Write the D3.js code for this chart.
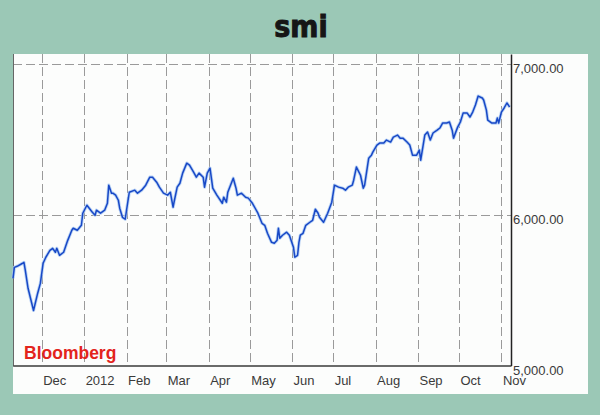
<!DOCTYPE html>
<html>
<head>
<meta charset="utf-8">
<script src="https://cdn.jsdelivr.net/npm/d3@7"></script>
<style>
  html, body { margin: 0; padding: 0; background: #9bc8b6; }
  svg { display: block; }
</style>
</head>
<body>
<svg id="chart" width="600" height="415"></svg>
<script>
// ---- data ----
const title = "smi";
const source = "Bloomberg";
const dates = [
"2011-11-10","2011-11-11","2011-11-13","2011-11-17","2011-11-18","2011-11-19","2011-11-21","2011-11-25","2011-11-28","2011-11-30",
"2011-12-02","2011-12-04","2011-12-07","2011-12-09","2011-12-11","2011-12-12","2011-12-14","2011-12-17","2011-12-18","2011-12-20","2011-12-23","2011-12-24","2011-12-27","2011-12-30","2011-12-31",
"2012-01-03","2012-01-07","2012-01-09","2012-01-10","2012-01-13","2012-01-16","2012-01-18","2012-01-19","2012-01-21","2012-01-22","2012-01-24","2012-01-26","2012-01-27","2012-01-29","2012-01-31",
"2012-02-01","2012-02-03","2012-02-07","2012-02-09","2012-02-12","2012-02-15","2012-02-18","2012-02-20","2012-02-23","2012-02-25","2012-02-28",
"2012-03-02","2012-03-04","2012-03-06","2012-03-07","2012-03-09","2012-03-11","2012-03-13","2012-03-16","2012-03-18","2012-03-21","2012-03-23","2012-03-25","2012-03-28","2012-03-29","2012-03-31",
"2012-04-02","2012-04-04","2012-04-07","2012-04-11","2012-04-12","2012-04-14","2012-04-15","2012-04-17","2012-04-19","2012-04-21","2012-04-22","2012-04-25","2012-04-28","2012-04-30",
"2012-05-03","2012-05-05","2012-05-07","2012-05-10","2012-05-12","2012-05-14","2012-05-17","2012-05-19","2012-05-21","2012-05-22","2012-05-23","2012-05-25","2012-05-28","2012-05-30",
"2012-06-02","2012-06-03","2012-06-05","2012-06-06","2012-06-07","2012-06-09","2012-06-11","2012-06-14","2012-06-16","2012-06-18","2012-06-20","2012-06-21","2012-06-24","2012-06-27","2012-06-30",
"2012-07-02","2012-07-05","2012-07-08","2012-07-10","2012-07-12","2012-07-15","2012-07-16","2012-07-18","2012-07-21","2012-07-23","2012-07-24","2012-07-26","2012-07-27","2012-07-29","2012-07-30",
"2012-08-02","2012-08-04","2012-08-07","2012-08-09","2012-08-12","2012-08-14","2012-08-17","2012-08-19","2012-08-21","2012-08-24","2012-08-26","2012-08-28","2012-08-31",
"2012-09-02","2012-09-03","2012-09-06","2012-09-08","2012-09-10","2012-09-12","2012-09-15","2012-09-17","2012-09-19","2012-09-22","2012-09-24","2012-09-26","2012-09-27","2012-09-30",
"2012-10-02","2012-10-04","2012-10-07","2012-10-09","2012-10-11","2012-10-13","2012-10-15","2012-10-18","2012-10-19","2012-10-21","2012-10-22","2012-10-25","2012-10-28","2012-10-29","2012-10-30",
"2012-11-01","2012-11-03","2012-11-05","2012-11-06","2012-11-07"
];
const values = [
5578,5651,5658,5678,5684,5631,5512,5365,5478,5545,
5678,5718,5764,5777,5751,5777,5731,5751,5777,5830,5897,5910,5897,5930,6010,
6063,6017,5997,6030,6010,6030,6076,6196,6143,6143,6130,6096,6043,5983,5970,
6030,6149,6163,6143,6163,6196,6249,6249,6216,6183,6143,
6130,6149,6050,6096,6183,6209,6276,6342,6329,6282,6249,6276,6249,6183,6276,
6309,6176,6130,6076,6116,6083,6149,6196,6242,6176,6130,6143,6116,6110,
6076,6043,6010,5943,5930,5877,5817,5811,5830,5910,5844,5864,5884,5864,
5784,5718,5731,5817,5864,5877,5930,5950,5963,6036,6010,5983,5950,6010,6083,
6196,6183,6176,6163,6183,6196,6229,6316,6262,6176,6196,6316,6375,6395,6415,
6462,6475,6475,6495,6482,6515,6528,6508,6508,6482,6462,6395,6395,
6429,6362,6528,6548,6495,6542,6561,6575,6608,6608,6615,6561,6508,6581,
6615,6674,6674,6648,6681,6728,6787,6774,6761,6694,6628,6608,6608,6641,6608,
6681,6708,6741,6728,6714
];
const monthTicks = ["2011-12-01","2012-01-01","2012-02-01","2012-03-01","2012-04-01","2012-05-01",
                    "2012-06-01","2012-07-01","2012-08-01","2012-09-01","2012-10-01","2012-11-01"];
const monthLabels = ["Dec","2012","Feb","Mar","Apr","May","Jun","Jul","Aug","Sep","Oct","Nov"];
const yTicks = [5000, 6000, 7000];
const xDomain = ["2011-11-10", "2012-11-08"];
const yDomain = [5000, 7066];

// ---- drawing ----
const parse = d3.utcParse("%Y-%m-%d");
const data = dates.map((d, i) => ({ date: parse(d), value: values[i] }));

const svg = d3.select("#chart");
const plot = { left: 13, right: 511, top: 54, bottom: 365.5 };

// white panel
svg.append("rect").attr("x", 13).attr("y", 54).attr("width", 575).attr("height", 340).attr("fill", "#fcfdfc");

const x = d3.scaleUtc().domain(xDomain.map(parse)).range([plot.left, plot.right]);
const y = d3.scaleLinear().domain(yDomain).range([plot.bottom, plot.top]);

// title
svg.append("text")
  .attr("x", 301).attr("y", 37)
  .attr("text-anchor", "middle")
  .attr("font-family", "'Liberation Sans Narrow', 'DejaVu Sans Condensed', 'Liberation Sans', sans-serif")
  .attr("font-stretch", "condensed")
  .attr("font-weight", "bold")
  .attr("font-size", 30)
  .attr("fill", "#161616")
  .attr("stroke", "#161616").attr("stroke-width", 0.9)
  .text(title);

// vertical gridlines
svg.append("g").selectAll("line").data(monthTicks.map(parse)).join("line")
  .attr("x1", d => Math.round(x(d)) + 0.5).attr("x2", d => Math.round(x(d)) + 0.5)
  .attr("y1", plot.top).attr("y2", plot.bottom)
  .attr("stroke", "#9a9a9a").attr("stroke-width", 1).attr("stroke-dasharray", "9,4");

// horizontal gridlines
svg.append("g").selectAll("line").data(yTicks.filter(v => v > yDomain[0])).join("line")
  .attr("x1", plot.left).attr("x2", plot.right)
  .attr("y1", d => Math.round(y(d)) + 0.5).attr("y2", d => Math.round(y(d)) + 0.5)
  .attr("stroke", "#9a9a9a").attr("stroke-width", 1).attr("stroke-dasharray", "9,4");

// frame
svg.append("line").attr("x1", plot.left + 0.5).attr("x2", plot.left + 0.5).attr("y1", plot.top).attr("y2", plot.bottom + 1)
  .attr("stroke", "#666");

// line (halo + core)
const line = d3.line().x(d => x(d.date)).y(d => y(d.value));
svg.append("path").datum(data).attr("d", line)
  .attr("fill", "none").attr("stroke", "#a9c8f2").attr("stroke-width", 3.2).attr("stroke-linejoin", "round").attr("opacity", 0.8);
svg.append("path").datum(data).attr("d", line)
  .attr("fill", "none").attr("stroke", "#1848c6").attr("stroke-width", 1.5).attr("stroke-linejoin", "round");

// x axis
const xAxis = d3.axisBottom(x).tickValues(monthTicks.map(parse))
  .tickFormat((d, i) => monthLabels[i]).tickSize(0).tickPadding(0);
const gx = svg.append("g").attr("transform", `translate(0,${plot.bottom})`).call(xAxis);
gx.select(".domain").attr("stroke", "#3a3a3a").attr("stroke-width", 1.5);
gx.selectAll("text")
  .attr("text-anchor", "start").attr("dx", 1).attr("y", 19.5).attr("dy", 0)
  .attr("font-family", "'Liberation Sans', Arial, sans-serif").attr("font-size", 13).attr("fill", "#3a3a3a");

// y axis (right)
const yAxis = d3.axisRight(y).tickValues(yTicks).tickFormat(d3.format(",.2f")).tickSize(0).tickPadding(0);
const gy = svg.append("g").attr("transform", `translate(${plot.right},0)`).call(yAxis);
gy.select(".domain").attr("stroke", "#222").attr("stroke-width", 1.5);
gy.selectAll("text")
  .attr("x", 2).attr("dy", 8.5)
  .attr("font-family", "'Liberation Sans', Arial, sans-serif").attr("font-size", 13).attr("fill", "#3a3a3a");

// source
svg.append("text")
  .attr("x", 24).attr("y", 359)
  .attr("font-family", "'Liberation Sans', Arial, sans-serif")
  .attr("font-weight", "bold").attr("font-size", 17.5)
  .attr("fill", "#e3241c")
  .text(source);
</script>
</body>
</html>
